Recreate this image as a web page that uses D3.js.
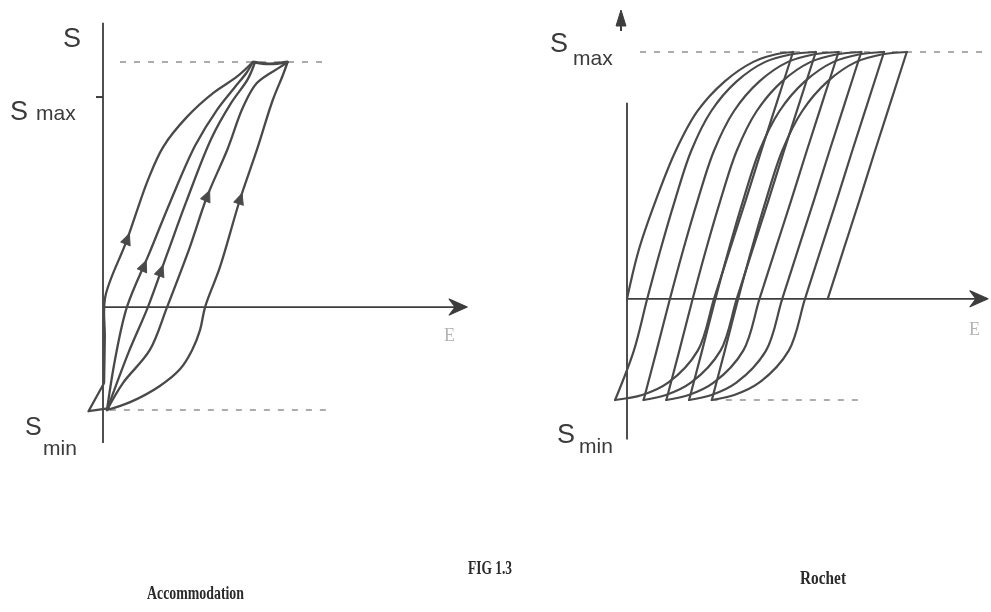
<!DOCTYPE html>
<html>
<head>
<meta charset="utf-8">
<script src="https://cdn.jsdelivr.net/npm/d3@7"></script>
<style>
  html, body { margin: 0; padding: 0; background: #fff; }
  svg { display: block; }
</style>
</head>
<body>
<svg id="fig" width="991" height="612"></svg>
<script>
// ---- Stress levels (arbitrary units, Smax = 100) ----
const S_MAX = 100;
const S_MIN_ACC = -42;
const S_MIN_ROC = -41;

// ---- Accommodation: branches as [strain, stress] ----
const accStartWedge = [[1.9, -41.2], [-4, -42.5], [0.3, -31]];
const accBranch1 = [[0.3, -31], [0.5, -12], [0.6, 4], [6.6, 27.3], [12.4, 51.8], [16.6, 65.3], [23.2, 77.6], [30.4, 87.3], [37, 94], [41.4, 100]];
const accBranch2 = [[1.1, -42], [3.3, -21.6], [6.6, 0], [12.8, 22], [18.6, 43], [25.5, 66], [31.5, 80.5], [36.3, 89.5], [39.6, 95.5], [41.4, 100]];
const accBranch3 = [[1.1, -42], [7.2, -18], [12.4, 0], [17.8, 22], [23, 43], [30, 69], [35.5, 83.5], [40, 93], [42, 100]];
const accBranch4 = [[1.1, -42], [5.5, -31], [12.9, -17.6], [17.7, 0], [24, 24.5], [28.7, 44.9], [34.3, 64.1], [38.7, 81.6], [42.5, 91.4], [48.9, 97.9], [51, 100]];
const accBranch5 = [[1.1, -42], [7.5, -38.8], [15.7, -32.2], [21.3, -25.3], [24.6, -17.6], [26.8, -9.4], [28.2, 0], [32.3, 16.3], [37.8, 43.7], [42.5, 64.1], [46.9, 84.5], [49.7, 94.7], [51, 100]];
const accTopLink = [[41.4, 100], [46, 99.2], [51, 100]];
// direction arrows: [strain, stress, branch number]
const accArrows = [[6.6, 27.3, 1], [11.2, 16.3, 2], [15.9, 14.3, 3], [28.7, 44.9, 4], [37.8, 43.7, 5]];

// ---- Rochet (ratcheting): loading and unloading branches ----
const rocLoad0 = [[0, 0], [3.3, 20], [8, 40], [13.5, 60], [19.5, 76], [27, 88], [35, 96], [41, 99], [46, 100]];
const rocUnload0 = [[46, 100], [41.6, 80], [37.2, 60], [32.9, 40], [28.5, 20], [24.1, 0], [19.6, -21], [11.4, -34], [4.2, -39], [-3.3, -41]];
const rocLoad1 = [[-3.3, -41], [1.9, -21], [5.6, 0], [9.3, 20], [13.3, 40], [17.8, 60], [23.3, 76], [30.3, 88], [38.3, 96], [45.3, 99], [52.3, 100]];
const rocUnload1 = [[52.3, 100], [47.9, 80], [43.5, 60], [39.2, 40], [34.8, 20], [30.4, 0], [25.9, -21], [17.7, -34], [10.8, -39], [4.6, -41]];
const rocLoad2 = [[4.6, -41], [8.2, -21], [11.9, 0], [15.6, 20], [19.6, 40], [24.1, 60], [29.6, 76], [36.6, 88], [44.6, 96], [51.6, 99], [58.6, 100]];
const rocUnload2 = [[58.6, 100], [54.2, 80], [49.8, 60], [45.5, 40], [41.1, 20], [36.7, 0], [32.2, -21], [24, -34], [17.1, -39], [10.9, -41]];
const rocLoad3 = [[10.9, -41], [14.5, -21], [18.2, 0], [21.9, 20], [25.9, 40], [30.4, 60], [35.9, 76], [42.9, 88], [50.9, 96], [57.9, 99], [64.9, 100]];
const rocUnload3 = [[64.9, 100], [60.5, 80], [56.1, 60], [51.8, 40], [47.4, 20], [43, 0], [38.5, -21], [30.3, -34], [23.4, -39], [17.2, -41]];
const rocLoad4 = [[17.2, -41], [20.8, -21], [24.5, 0], [28.2, 20], [32.2, 40], [36.7, 60], [42.2, 76], [49.2, 88], [57.2, 96], [64.2, 99], [71.2, 100]];
const rocUnload4 = [[71.2, 100], [66.8, 80], [62.4, 60], [58.1, 40], [53.7, 20], [49.3, 0], [44.8, -21], [36.6, -34], [29.7, -39], [23.5, -41]];
const rocLoad5 = [[23.5, -41], [27.1, -21], [30.8, 0], [34.5, 20], [38.5, 40], [43, 60], [48.5, 76], [55.5, 88], [63.5, 96], [70.5, 99], [77.5, 100]];
const rocUnload5 = [[77.5, 100], [73.1, 80], [68.7, 60], [64.4, 40], [60, 20], [55.6, 0]];

// ---- Reference levels drawn dashed: [strain from, strain to] ----
const accMaxGuide = [4.7, 62.7];
const accMinGuide = [1.9, 63.5];
const rocMaxGuide = [3.6, 100.5];
const rocMinGuide = [23.5, 64.5];

// ---- Text ----
const axisStress = "S";
const axisStrain = "E";
const subMax = "max";
const subMin = "min";
const figTitle = "FIG 1.3";
const panelTitles = ["Accommodation", "Rochet"];

// ---------------------------------------------------------------
const svg = d3.select("#fig");
const ink = "#4a4a4a";
const axisInk = "#3c3c3c";
const sans = "'Liberation Sans', Arial, sans-serif";
const serif = "'Liberation Serif', 'Times New Roman', serif";

const defs = svg.append("defs");
defs.append("filter").attr("id", "soft")
  .attr("x", "-5%").attr("y", "-5%").attr("width", "110%").attr("height", "110%")
  .append("feGaussianBlur").attr("stdDeviation", 0.55);

svg.append("rect").attr("width", 991).attr("height", 612).attr("fill", "#fff");
const root = svg.append("g").attr("filter", "url(#soft)");

// scales for both panels
const xA = d3.scaleLinear().domain([0, 100]).range([103, 465]);
const yA = d3.scaleLinear().domain([S_MIN_ACC, S_MAX]).range([410, 62]);
const xR = d3.scaleLinear().domain([0, 100]).range([627, 988]);
const yR = d3.scaleLinear().domain([S_MIN_ROC, S_MAX]).range([400, 52]);

function lineGen(x, y, curve) {
  return d3.line().x(d => x(d[0])).y(d => y(d[1])).curve(curve || d3.curveCatmullRom.alpha(0.5));
}

function arrowRight(g, xt, yt) {
  g.append("path")
    .attr("d", `M${xt - 18},${yt - 8} L${xt},${yt} L${xt - 18},${yt + 8} L${xt - 12},${yt} Z`)
    .attr("fill", axisInk).attr("stroke", axisInk).attr("stroke-width", 1.2)
    .attr("stroke-linejoin", "round");
}

function dashed(g, x, y, range, level) {
  g.append("line")
    .attr("x1", x(range[0])).attr("x2", x(range[1]))
    .attr("y1", y(level)).attr("y2", y(level))
    .attr("stroke", "#5a5a5a").attr("stroke-width", 1.2)
    .attr("stroke-dasharray", "6,8");
}

function label(g, txt, x, y, size, opts) {
  const t = g.append("text").attr("x", x).attr("y", y)
    .attr("font-family", (opts && opts.family) || sans)
    .attr("font-size", size)
    .attr("fill", (opts && opts.fill) || "#3a3a3a")
    .text(txt);
  if (opts && opts.weight) t.attr("font-weight", opts.weight);
  if (opts && opts.len) t.attr("textLength", opts.len).attr("lengthAdjust", "spacingAndGlyphs");
  return t;
}

// ================= Accommodation panel =================
const gA = root.append("g");

// axes
gA.append("line").attr("x1", xA(0)).attr("x2", xA(0))
  .attr("y1", yA(116)).attr("y2", yA(-55.5))
  .attr("stroke", axisInk).attr("stroke-width", 1.8);
gA.append("line").attr("x1", xA(0)).attr("x2", xA(100.3))
  .attr("y1", yA(0)).attr("y2", yA(0))
  .attr("stroke", axisInk).attr("stroke-width", 1.8);
arrowRight(gA, xA(100.6), yA(0));
gA.append("line").attr("x1", xA(0) - 7).attr("x2", xA(0))
  .attr("y1", yA(85.7)).attr("y2", yA(85.7))
  .attr("stroke", axisInk).attr("stroke-width", 2);

dashed(gA, xA, yA, accMaxGuide, S_MAX);
dashed(gA, xA, yA, accMinGuide, S_MIN_ACC);

const accBranches = [accBranch1, accBranch2, accBranch3, accBranch4, accBranch5];
const lineA = lineGen(xA, yA);
gA.selectAll("path.branch").data(accBranches).join("path")
  .attr("class", "branch")
  .attr("d", lineA)
  .attr("fill", "none").attr("stroke", ink).attr("stroke-width", 2.3)
  .attr("stroke-linejoin", "round").attr("stroke-linecap", "round");
gA.append("path").attr("d", lineGen(xA, yA, d3.curveLinear)(accStartWedge))
  .attr("fill", "none").attr("stroke", ink).attr("stroke-width", 2.3)
  .attr("stroke-linejoin", "round");
gA.append("path").attr("d", lineA(accTopLink))
  .attr("fill", "none").attr("stroke", ink).attr("stroke-width", 2.8);

// arrowheads oriented along their branch
accArrows.forEach(([sx, sy, b]) => {
  const pts = accBranches[b - 1].map(p => [xA(p[0]), yA(p[1])]);
  const px = xA(sx), py = yA(sy);
  let best = 0, bestD = Infinity;
  for (let i = 0; i < pts.length - 1; i++) {
    const mx = (pts[i][0] + pts[i + 1][0]) / 2, my = (pts[i][1] + pts[i + 1][1]) / 2;
    const d = (mx - px) ** 2 + (my - py) ** 2;
    if (d < bestD) { bestD = d; best = i; }
  }
  const dx = pts[best + 1][0] - pts[best][0], dy = pts[best + 1][1] - pts[best][1];
  const ang = Math.atan2(dx, -dy) * 180 / Math.PI;
  gA.append("path").attr("d", "M0,-7 L5,4 L-5,4 Z")
    .attr("transform", `translate(${px},${py}) rotate(${ang})`)
    .attr("fill", ink).attr("stroke", ink).attr("stroke-width", 1)
    .attr("stroke-linejoin", "round");
});

// labels
label(gA, axisStress, 63, 47, 27);
label(gA, axisStress, 10, 120, 27);
label(gA, subMax, 36, 120, 21);
label(gA, axisStress, 25, 435, 25);
label(gA, subMin, 43, 455, 21);
label(gA, axisStrain, 444, 341, 18, { fill: "#b3b3b3", family: serif });

// ================= Rochet panel =================
const gR = root.append("g");

gR.append("line").attr("x1", xR(0)).attr("x2", xR(0))
  .attr("y1", yR(79.4)).attr("y2", yR(-57))
  .attr("stroke", axisInk).attr("stroke-width", 1.8);
gR.append("line").attr("x1", xR(0)).attr("x2", xR(99.7))
  .attr("y1", yR(0)).attr("y2", yR(0))
  .attr("stroke", axisInk).attr("stroke-width", 1.8);
arrowRight(gR, xR(100), yR(0));
// detached arrowhead of the stress axis
gR.append("path")
  .attr("d", `M${xR(0) - 6},${yR(S_MAX) - 42} L${xR(0) - 1},${yR(S_MAX) - 26} L${xR(0) - 11},${yR(S_MAX) - 26} Z`)
  .attr("fill", axisInk).attr("stroke", axisInk).attr("stroke-width", 1);
gR.append("line").attr("x1", xR(0) - 6).attr("x2", xR(0) - 6)
  .attr("y1", yR(S_MAX) - 30).attr("y2", yR(S_MAX) - 21)
  .attr("stroke", axisInk).attr("stroke-width", 2);

dashed(gR, xR, yR, rocMaxGuide, S_MAX);
dashed(gR, xR, yR, rocMinGuide, S_MIN_ROC);

const rocBranches = [rocLoad0, rocUnload0, rocLoad1, rocUnload1, rocLoad2, rocUnload2,
  rocLoad3, rocUnload3, rocLoad4, rocUnload4, rocLoad5, rocUnload5];
gR.selectAll("path.branch").data(rocBranches).join("path")
  .attr("class", "branch")
  .attr("d", lineGen(xR, yR))
  .attr("fill", "none").attr("stroke", ink).attr("stroke-width", 2.2)
  .attr("stroke-linejoin", "round").attr("stroke-linecap", "round");

label(gR, axisStress, 550, 52, 27);
label(gR, subMax, 573, 65, 21);
label(gR, axisStress, 557, 443, 27);
label(gR, subMin, 579, 453, 21);
label(gR, axisStrain, 969, 335, 18, { fill: "#b3b3b3", family: serif });

// ================= captions =================
label(root, figTitle, 468, 574, 19, { family: serif, weight: "bold", fill: "#2a2a2a", len: 44 });
label(root, panelTitles[0], 147, 599, 19, { family: serif, weight: "bold", fill: "#2a2a2a", len: 97 });
label(root, panelTitles[1], 800, 584, 19, { family: serif, weight: "bold", fill: "#2a2a2a", len: 46 });
</script>
</body>
</html>
